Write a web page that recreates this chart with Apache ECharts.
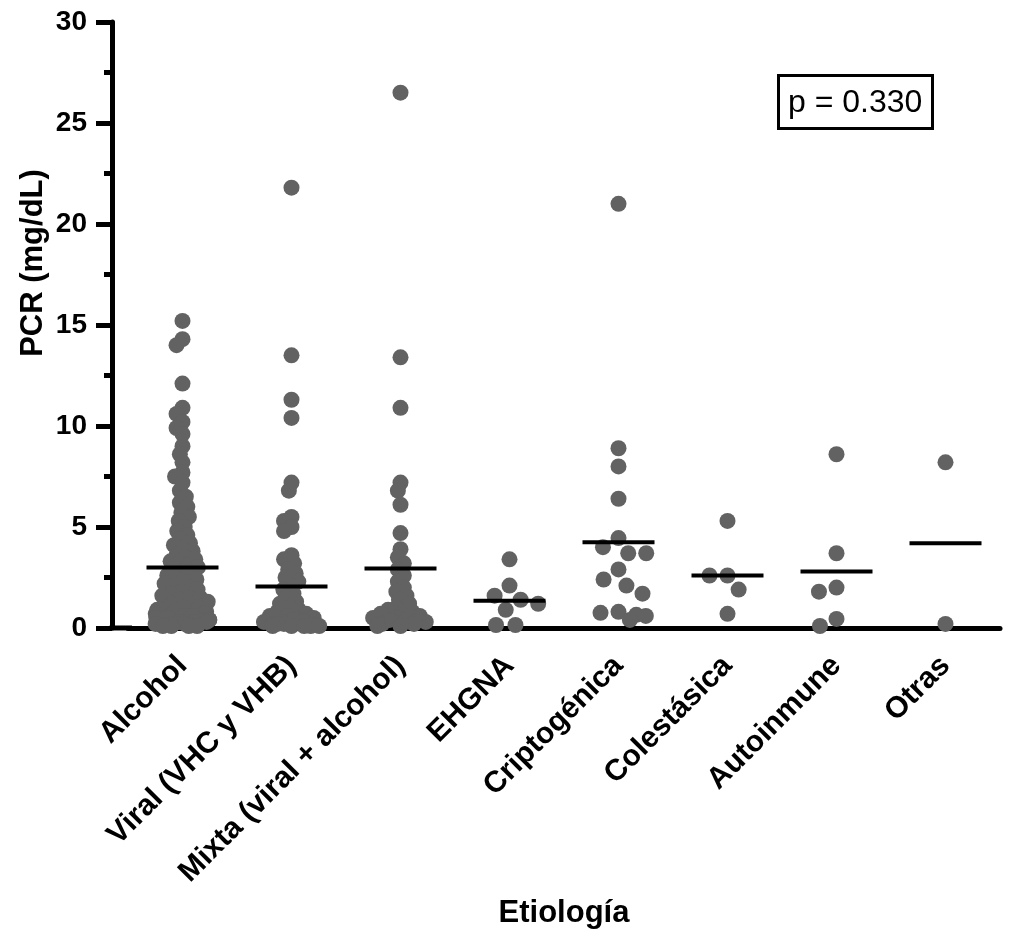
<!DOCTYPE html>
<html>
<head>
<meta charset="utf-8">
<script src="https://cdn.jsdelivr.net/npm/echarts@6/dist/echarts.min.js"></script>
<style>
  html, body { margin: 0; padding: 0; background: #fff; }
  #chart { width: 1015px; height: 939px; }
</style>
</head>
<body>
<div id="chart"></div>
<script>
var categories = ['Alcohol', 'Viral (VHC y VHB)', 'Mixta (viral + alcohol)', 'EHGNA',
    'Criptogénica', 'Colestásica', 'Autoinmune', 'Otras'];

// PCR values per group (mg/dL)
var alcohol = [15.2, 14.3, 14.0, 12.1, 10.9, 10.6, 10.2, 9.9, 9.6, 9.0, 8.6, 8.2, 7.7, 7.5, 7.2,
    6.8, 6.5, 6.2, 6.0, 5.7, 5.5, 5.3, 5.0, 4.8, 4.6, 4.4, 4.2, 4.1, 3.9, 3.8, 3.6, 3.5, 3.4,
    3.3, 3.2, 3.1, 3.0, 2.9, 2.8, 2.7, 2.6, 2.5, 2.4, 2.3, 2.2, 2.1, 2.0, 1.9, 1.8, 1.7, 1.6,
    1.5, 1.5, 1.4, 1.3, 1.2, 1.1, 1.0, 1.0, 0.9, 0.9, 0.8, 0.8, 0.7, 0.7, 0.6, 0.6, 0.5, 0.5,
    0.5, 0.4, 0.4, 0.4, 0.3, 0.3, 0.3, 0.3, 0.2, 0.2, 0.2, 0.2, 0.1, 0.1, 0.1, 0.1];
var viral = [21.8, 13.5, 11.3, 10.4, 7.2, 6.8, 5.5, 5.3, 5.0, 4.8, 3.6, 3.4, 3.2, 2.9, 2.7,
    2.5, 2.3, 2.1, 1.9, 1.7, 1.5, 1.3, 1.2, 1.0, 0.9, 0.8, 0.7, 0.6, 0.6, 0.5, 0.5, 0.4, 0.4,
    0.3, 0.3, 0.3, 0.2, 0.2, 0.2, 0.2, 0.1, 0.1, 0.1, 0.1, 0.1];
var mixta = [26.5, 13.4, 10.9, 7.2, 6.8, 6.1, 4.7, 3.9, 3.5, 3.2, 2.9, 2.6, 2.3, 2.0, 1.8,
    1.6, 1.4, 1.2, 1.0, 0.9, 0.8, 0.8, 0.7, 0.6, 0.5, 0.5, 0.4, 0.4, 0.3, 0.3, 0.2, 0.2, 0.2,
    0.1, 0.1];
var ehgna = [3.4, 2.1, 1.6, 1.4, 1.2, 0.9, 0.15, 0.15];
var criptogenica = [21.0, 8.9, 8.0, 6.4, 4.45, 4.0, 3.7, 3.7, 2.9, 2.4, 2.1, 1.7, 0.8, 0.75,
    0.65, 0.6, 0.4];
var colestasica = [5.3, 2.6, 2.6, 1.9, 0.7];
var autoinmune = [8.6, 3.7, 2.0, 1.8, 0.45, 0.1];
var otras = [8.2, 0.2];

// group means (horizontal bars)
var means = [3.0, 2.05, 2.95, 1.35, 4.25, 2.6, 2.8, 4.2];

var yTicks = [0, 5, 10, 15, 20, 25, 30];
var pText = 'p = 0.330';

var groups = [alcohol, viral, mixta, ehgna, criptogenica, colestasica, autoinmune, otras];
// big groups get packed tighter (dots overlap) than the small ones
var densePts = [];
var sparsePts = [];
groups.forEach(function (vals, i) {
    vals.forEach(function (v) {
        (i < 3 ? densePts : sparsePts).push([i, v]);
    });
});

var font = 'Liberation Sans, Arial, Helvetica, sans-serif';
var myChart = echarts.init(document.getElementById('chart'));

var option = {
    backgroundColor: '#fff',
    animation: false,
    title: {
        text: pText,
        left: 778,
        top: 75,
        padding: [12, 10, 10, 10],
        borderColor: '#000',
        borderWidth: 3,
        textStyle: {
            color: '#000',
            fontFamily: font,
            fontWeight: 'normal',
            fontSize: 32
        }
    },
    grid: { left: 128, right: 15, top: 22, bottom: 311 },
    xAxis: [{
        type: 'category',
        data: categories,
        jitter: 56,
        jitterOverlap: false,
        jitterMargin: -7.5,
        name: 'Etiología',
        nameLocation: 'middle',
        nameGap: 270,
        nameTextStyle: { color: '#000', fontFamily: font, fontWeight: 'bold', fontSize: 31 },
        axisLine: { lineStyle: { color: '#000', width: 5 } },
        axisTick: { alignWithLabel: true, length: 15, lineStyle: { color: '#000', width: 5 } },
        axisLabel: {
            rotate: 45,
            margin: 33,
            interval: 0,
            color: '#000',
            fontFamily: font,
            fontWeight: 'bold',
            fontSize: 30
        },
        splitLine: { show: false }
    }, {
        type: 'category',
        data: categories,
        show: false,
        position: 'bottom',
        jitter: 64,
        jitterOverlap: false,
        jitterMargin: 2
    }],
    yAxis: {
        type: 'value',
        min: 0,
        max: 30,
        interval: 5,
        offset: 16,
        axisLine: { show: true, lineStyle: { color: '#000', width: 5 } },
        axisTick: { show: true, length: 16, lineStyle: { color: '#000', width: 5 } },
        minorTick: { show: true, splitNumber: 2, length: 8, lineStyle: { color: '#000', width: 5 } },
        axisLabel: {
            margin: 25,
            color: '#000',
            fontFamily: font,
            fontWeight: 'bold',
            fontSize: 28,
            formatter: function (v) { return yTicks.indexOf(v) >= 0 ? String(v) : ''; }
        },
        splitLine: { show: false }
    },
    graphic: [
        {
            type: 'line',
            shape: { x1: 109.5, y1: 628, x2: 132, y2: 628 },
            style: { stroke: '#000', lineWidth: 5 },
            z: 10
        },
        {
            type: 'text',
            x: 33,
            y: 263,
            rotation: Math.PI / 2,
            style: {
                text: 'PCR (mg/dL)',
                fill: '#000',
                font: 'bold 31px ' + font,
                align: 'center',
                verticalAlign: 'middle'
            }
        }
    ],
    series: [
        {
            type: 'scatter',
            xAxisIndex: 0,
            data: densePts,
            symbol: 'circle',
            symbolSize: 16,
            itemStyle: { color: '#626262', opacity: 1 },
            z: 2
        },
        {
            type: 'scatter',
            xAxisIndex: 1,
            data: sparsePts,
            symbol: 'circle',
            symbolSize: 16,
            itemStyle: { color: '#626262', opacity: 1 },
            z: 2
        },
        {
            type: 'custom',
            xAxisIndex: 0,
            data: means.map(function (m, i) { return [i, m]; }),
            z: 5,
            renderItem: function (params, api) {
                var p = api.coord([api.value(0), api.value(1)]);
                return {
                    type: 'line',
                    shape: { x1: p[0] - 36, y1: p[1], x2: p[0] + 36, y2: p[1] },
                    style: { stroke: '#000', lineWidth: 4 }
                };
            }
        }
    ]
};
myChart.setOption(option);
</script>
</body>
</html>
